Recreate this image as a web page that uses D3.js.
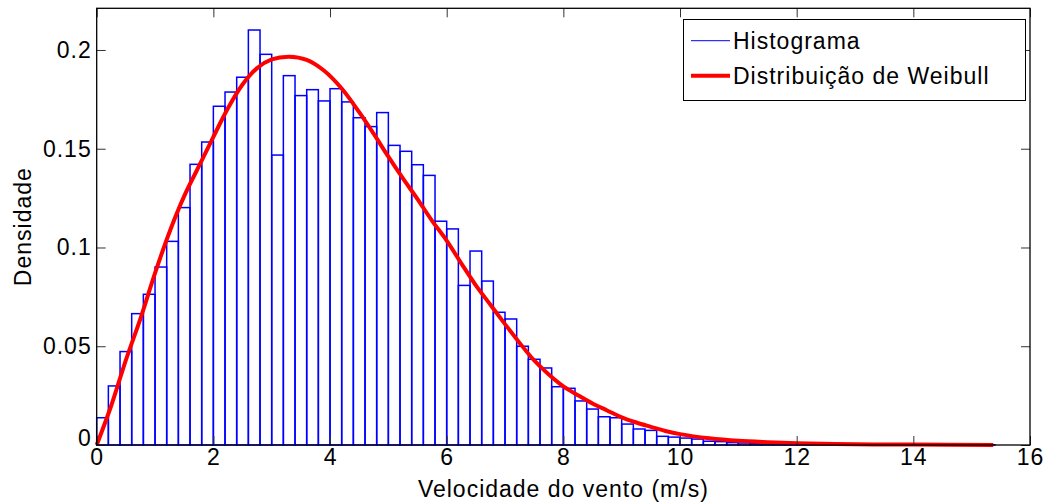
<!DOCTYPE html>
<html>
<head>
<meta charset="utf-8">
<script src="https://cdn.jsdelivr.net/npm/d3@7"></script>
<style>
  body { margin: 0; background: #fff; }
  text { font-family: Arial, "Liberation Sans", sans-serif; fill: #000; }
</style>
</head>
<body>
<div id="chart-area"></div>
<script>
// histogram: bin width and density per bin
var binWidth = 0.2;
var density = [
  0.0138, 0.0299, 0.0473, 0.0665, 0.0763, 0.0901, 0.1031, 0.1202, 0.1421, 0.1534,
  0.1715, 0.1787, 0.1862, 0.2101, 0.1978, 0.1468, 0.1870, 0.1769, 0.1799, 0.1742,
  0.1804, 0.1737, 0.1657, 0.1612, 0.1683, 0.1517, 0.1487, 0.1419, 0.1365, 0.1133,
  0.1094, 0.0808, 0.0982, 0.0830, 0.0672, 0.0638, 0.0500, 0.0434, 0.0390, 0.0295,
  0.0287, 0.0223, 0.0182, 0.0143, 0.0138, 0.0106, 0.0081, 0.0074, 0.0044, 0.0040,
  0.0035, 0.0030, 0.0019, 0.0017, 0.0012, 0.0010, 0.0008, 0.0006, 0.0005, 0.0004,
  0.0003, 0.0003, 0.0002, 0.0001, 0.0002, 0.0001, 0.0001, 0.0000, 0.0001, 0.0000,
  0.0000, 0.0001, 0.0000, 0.0000, 0.0000, 0.0000, 0.0001
];

// weibull curve points
var curveX = [0, 0.25, 0.5, 0.75, 1.0, 1.25, 1.5, 1.75, 2.0, 2.25, 2.5, 2.75, 3.0, 3.3,
  3.6, 3.9, 4.2, 4.5, 4.75, 5.0, 5.25, 5.5, 5.75, 6.0, 6.25, 6.5, 6.75, 7.0,
  7.25, 7.5, 7.75, 8.0, 8.25, 8.5, 8.75, 9.0, 9.25, 9.5, 9.75, 10.0, 10.5, 11.0, 11.5,
  12.0, 13.0, 14.0, 15.37];
var curveY = [0, 0.020, 0.043, 0.064, 0.087, 0.108, 0.126, 0.141, 0.156, 0.1705,
  0.1825, 0.1908, 0.1952, 0.1966, 0.1950, 0.1895, 0.1805, 0.1685, 0.1575,
  0.1460, 0.1350, 0.1245, 0.1135, 0.1035, 0.0920, 0.0808, 0.0710, 0.0612, 0.0517,
  0.0428, 0.0357, 0.0297, 0.0252, 0.0210, 0.0175, 0.0140, 0.0114, 0.0092, 0.0071,
  0.0055, 0.0034, 0.0021, 0.0014, 0.0009, 0.0004, 0.0002, 0.0000];

var xTicks = [0, 2, 4, 6, 8, 10, 12, 14, 16];
var yTicks = [0, 0.05, 0.1, 0.15, 0.2];
var legendLabels = ["Histograma", "Distribuição de Weibull"];

(function() {
  // layout
  var svgWidth = 1053, svgHeight = 502;
  var margin = { left: 96.7, right: 1030, top: 8.3, bottom: 445 };
  var fontSize = 23;
  var spacing = "1px";

  var svg = d3.select("#chart-area").append("svg")
    .attr("width", svgWidth)
    .attr("height", svgHeight);

  var xScale = d3.scaleLinear().domain([0, 16]).range([margin.left, margin.right]);
  var yScale = d3.scaleLinear().domain([0, 0.2211]).range([margin.bottom, margin.top]);

  // bars
  svg.append("g")
    .attr("class", "bars")
    .selectAll("rect")
    .data(density)
    .enter()
    .append("rect")
    .attr("x", (d, i) => xScale(i * binWidth))
    .attr("y", d => yScale(d))
    .attr("width", xScale(binWidth) - xScale(0))
    .attr("height", d => yScale(0) - yScale(d))
    .attr("fill", "none")
    .attr("stroke", "#0000ff")
    .attr("stroke-width", 1.5);

  // curve
  var curvePts = curveX.map((x, i) => [x, curveY[i]]);
  var line = d3.line()
    .x(d => xScale(d[0]))
    .y(d => yScale(d[1]))
    .curve(d3.curveCatmullRom.alpha(0.5));

  svg.append("path")
    .datum(curvePts)
    .attr("d", line)
    .attr("fill", "none")
    .attr("stroke", "#ff0000")
    .attr("stroke-width", 4)
    .attr("stroke-linejoin", "round");

  // axes (matlab style: ticks inside, box)
  var tickLen = 9;
  var xAxisCall = d3.axisBottom(xScale).tickValues(xTicks).tickSize(-tickLen).tickPadding(4).tickFormat(d3.format("d"));
  var xAxisTop = d3.axisTop(xScale).tickValues(xTicks).tickSize(-tickLen).tickFormat("");
  var yAxisCall = d3.axisLeft(yScale).tickValues(yTicks).tickSize(-tickLen).tickPadding(5).tickFormat(d => d);
  var yAxisRight = d3.axisRight(yScale).tickValues(yTicks).tickSize(-tickLen).tickFormat("");

  svg.append("g").attr("class", "x-axis")
    .attr("transform", "translate(0," + margin.bottom + ")")
    .call(xAxisCall);
  svg.append("g").attr("class", "x-axis-top")
    .attr("transform", "translate(0," + margin.top + ")")
    .call(xAxisTop);
  svg.append("g").attr("class", "y-axis")
    .attr("transform", "translate(" + margin.left + ",0)")
    .call(yAxisCall);
  svg.append("g").attr("class", "y-axis-right")
    .attr("transform", "translate(" + margin.right + ",0)")
    .call(yAxisRight);

  svg.selectAll(".domain").remove();
  svg.selectAll(".tick line").attr("stroke", "#333").attr("stroke-width", 1);
  svg.selectAll(".tick text")
    .attr("font-size", fontSize)
    .attr("letter-spacing", spacing)
    .attr("font-family", "Arial, 'Liberation Sans', sans-serif")
    .attr("fill", "#000");

  // matlab draws the y "0" a bit higher
  svg.selectAll(".y-axis .tick text").filter(d => d === 0).attr("dy", "0.0em");

  svg.append("rect")
    .attr("x", margin.left).attr("y", margin.top)
    .attr("width", margin.right - margin.left).attr("height", margin.bottom - margin.top)
    .attr("fill", "none")
    .attr("stroke", "#000")
    .attr("stroke-width", 1.3);

  // axis labels
  svg.append("text")
    .attr("x", (margin.left + margin.right) / 2)
    .attr("y", 497)
    .attr("text-anchor", "middle")
    .attr("font-size", fontSize)
    .attr("letter-spacing", spacing)
    .text("Velocidade do vento (m/s)");

  svg.append("text")
    .attr("transform", "translate(31," + ((margin.top + margin.bottom) / 2) + ") rotate(-90)")
    .attr("text-anchor", "middle")
    .attr("font-size", fontSize)
    .attr("letter-spacing", spacing)
    .text("Densidade");

  // legend
  var legend = svg.append("g").attr("class", "legend");
  legend.append("rect")
    .attr("x", 683.5).attr("y", 19.5)
    .attr("width", 342).attr("height", 81)
    .attr("fill", "#fff")
    .attr("stroke", "#000")
    .attr("stroke-width", 1);

  var legendColors = ["#0000ff", "#ff0000"];
  var legendWidths = [1, 4];
  legendLabels.forEach((lab, i) => {
    var ly = 40.7 + i * 35;
    legend.append("line")
      .attr("x1", 691).attr("x2", 730)
      .attr("y1", ly).attr("y2", ly)
      .attr("stroke", legendColors[i])
      .attr("stroke-width", legendWidths[i]);
    legend.append("text")
      .attr("x", 733)
      .attr("y", ly)
      .attr("dy", "0.35em")
      .attr("font-size", fontSize)
      .attr("letter-spacing", spacing)
      .text(lab);
  });
})();
</script>
</body>
</html>
